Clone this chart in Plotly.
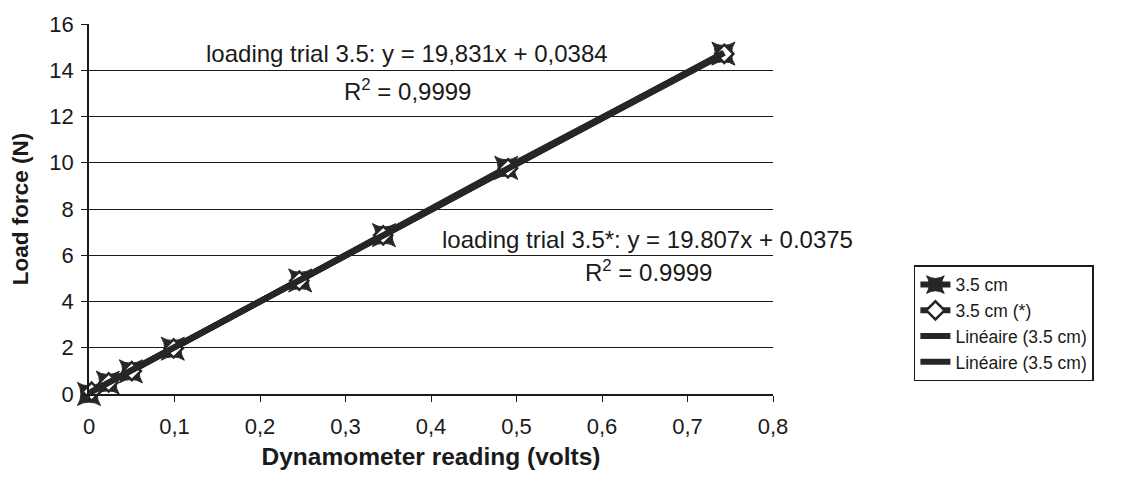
import plotly.graph_objects as go

# ---- data ----
x_trial = [0.0, 0.022, 0.049, 0.098, 0.247, 0.345, 0.488, 0.742]
y_trial = [0.0, 0.49, 0.98, 1.96, 4.91, 6.87, 9.78, 14.72]
x_trial_star = [0.003, 0.023, 0.050, 0.099, 0.246, 0.344, 0.490, 0.743]
y_trial_star = [0.1, 0.50, 0.99, 1.97, 4.90, 6.86, 9.76, 14.71]

fit_trial = (19.831, 0.0384)
fit_trial_star = (19.807, 0.0375)

x_ticks = [0, 0.1, 0.2, 0.3, 0.4, 0.5, 0.6, 0.7, 0.8]
x_ticktext = ["0", "0,1", "0,2", "0,3", "0,4", "0,5", "0,6", "0,7", "0,8"]
y_ticks = [0, 2, 4, 6, 8, 10, 12, 14, 16]

series_names = ["3.5 cm", "3.5 cm (*)", "Linéaire (3.5 cm)", "Linéaire (3.5 cm)"]

DARK = "#262626"
FONT = "Liberation Sans, Arial, sans-serif"


def fit_line(xs, coef):
    xa = [min(xs), max(xs)]
    return xa, [coef[0] * v + coef[1] for v in xa]


fig = go.Figure()
fig.add_trace(go.Scatter(
    x=x_trial, y=y_trial, name=series_names[0], mode="lines+markers",
    line=dict(color=DARK, width=6),
    marker=dict(symbol="star-square", size=21, color=DARK,
                line=dict(color=DARK, width=1)),
    cliponaxis=False))
fig.add_trace(go.Scatter(
    x=x_trial_star, y=y_trial_star, name=series_names[1], mode="lines+markers",
    line=dict(color=DARK, width=6),
    marker=dict(symbol="diamond", size=14, color="white",
                line=dict(color=DARK, width=2.5)),
    cliponaxis=False))
tx, ty = fit_line(x_trial, fit_trial)
fig.add_trace(go.Scatter(x=tx, y=ty, name=series_names[2], mode="lines",
                         line=dict(color=DARK, width=6), cliponaxis=False))
tx2, ty2 = fit_line(x_trial_star, fit_trial_star)
fig.add_trace(go.Scatter(x=tx2, y=ty2, name=series_names[3], mode="lines",
                         line=dict(color=DARK, width=6), cliponaxis=False))

ann_font = dict(family=FONT, size=24, color="#1a1a1a")
fig.add_annotation(x=0.3725, y=14.72, xref="x", yref="y", showarrow=False,
                   text="loading trial 3.5: y = 19,831x + 0,0384", font=ann_font)
fig.add_annotation(x=0.372, y=13.15, xref="x", yref="y", showarrow=False,
                   text="R<sup>2</sup> = 0,9999", font=ann_font)
fig.add_annotation(x=0.653, y=6.68, xref="x", yref="y", showarrow=False,
                   text="loading trial 3.5*: y = 19.807x + 0.0375", font=ann_font)
fig.add_annotation(x=0.654, y=5.3, xref="x", yref="y", showarrow=False,
                   text="R<sup>2</sup> = 0.9999", font=ann_font)

fig.update_layout(
    width=1142, height=478,
    margin=dict(l=89, r=369, t=20, b=84),
    paper_bgcolor="white", plot_bgcolor="white",
    font=dict(family=FONT, color="#1a1a1a"),
    showlegend=True,
    legend=dict(x=1.206, y=0.348, xanchor="left", yanchor="top",
                bgcolor="white", bordercolor="#1a1a1a", borderwidth=1.5,
                font=dict(family=FONT, size=17.5, color="#1a1a1a"),
                tracegroupgap=0, itemwidth=30),
    xaxis=dict(range=[0, 0.8], tickvals=x_ticks, ticktext=x_ticktext,
               showgrid=False, zeroline=False, showline=True,
               linecolor="#1a1a1a", linewidth=1.5,
               ticks="outside", ticklen=6, tickcolor="#1a1a1a",
               ticklabelstandoff=6,
               tickfont=dict(family=FONT, size=22, color="#1a1a1a"),
               title=dict(text="<b>Dynamometer reading (volts)</b>",
                          font=dict(family=FONT, size=24.5, color="#1a1a1a"),
                          standoff=10)),
    yaxis=dict(range=[0, 16], tickvals=y_ticks,
               showgrid=True, gridcolor="#1a1a1a", gridwidth=1.2,
               zeroline=False, showline=True,
               linecolor="#1a1a1a", linewidth=1.5,
               ticks="outside", ticklen=6, tickcolor="#1a1a1a",
               ticklabelstandoff=3,
               tickfont=dict(family=FONT, size=22, color="#1a1a1a"),
               title=dict(text="<b>Load force (N)</b>",
                          font=dict(family=FONT, size=22.5, color="#1a1a1a"),
                          standoff=14)),
)

fig.write_html("out.html")
